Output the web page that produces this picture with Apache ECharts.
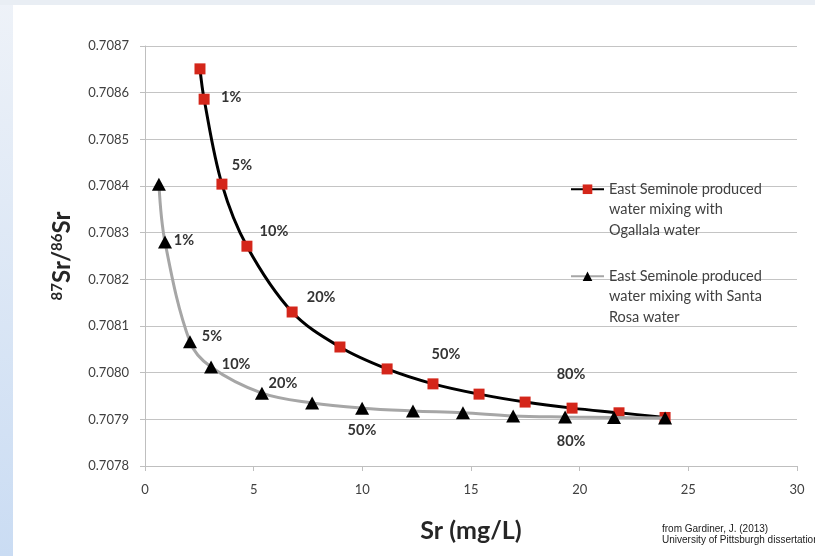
<!DOCTYPE html>
<html>
<head>
<meta charset="utf-8">
<script src="https://cdn.jsdelivr.net/npm/echarts@6/dist/echarts.min.js"></script>
<style>
html,body{margin:0;padding:0;}
body{
  width:815px;height:556px;overflow:hidden;
  background:
    linear-gradient(#e9eef4,#e9eef4) 0 0/100% 5px no-repeat,
    linear-gradient(to bottom,#eef2f8,#cadcf3) 0 0/13px 100% no-repeat,
    #ffffff;
}
#chart{width:815px;height:556px;}
</style>
</head>
<body>
<div id="chart"></div>
<script>
// ---- data ----
var ogallalaSr    = [2.53, 2.72, 3.54, 4.69, 6.77, 8.97, 11.14, 13.25, 15.37, 17.49, 19.65, 21.81, 23.93];
var ogallalaRatio = [0.708651, 0.708586, 0.708404, 0.708271, 0.708130, 0.708055, 0.708008, 0.707976, 0.707954, 0.707937, 0.707924, 0.707914, 0.707904];
var ogallalaLabels = ['', '1%', '5%', '10%', '20%', '', '', '50%', '', '', '80%', '', ''];

var santaRosaSr    = [0.64, 0.92, 2.07, 3.04, 5.38, 7.69, 9.99, 12.33, 14.63, 16.94, 19.33, 21.58, 23.93];
var santaRosaRatio = [0.708404, 0.708280, 0.708066, 0.708012, 0.707956, 0.707935, 0.707924, 0.707918, 0.707914, 0.707907, 0.707905, 0.707904, 0.707903];
var santaRosaLabels = ['', '1%', '5%', '10%', '20%', '', '', '50%', '', '', '80%', '', ''];

var xTicks = [0, 5, 10, 15, 20, 25, 30];
var yTicks = [0.7078, 0.7079, 0.7080, 0.7081, 0.7082, 0.7083, 0.7084, 0.7085, 0.7086, 0.7087];

var seriesNames = [
  'East Seminole produced water mixing with Ogallala water',
  'East Seminole produced water mixing with Santa Rosa water'
];
var legendLines = [
  ['East Seminole produced', 'water mixing with', 'Ogallala water'],
  ['East Seminole produced', 'water mixing with Santa', 'Rosa water']
];

// ---- label placement (style, not data) ----
var ogOffsets = {1:[27,-2], 2:[20,-19], 3:[27,-15], 4:[29,-15], 7:[13,-30], 10:[-1,-34]};
var srOffsets = {1:[19,-2], 2:[22,-6], 3:[25,-3], 4:[21,-10], 7:[-51,19], 10:[6,24]};

var labelFont = {fontFamily:'Lato', fontWeight:'bold', fontSize:14.5, color:'#333333'};

function buildData(xs, ys, labels, offsets){
  return xs.map(function(x, i){
    var item = {value:[x, ys[i]]};
    if (labels[i]) {
      item.label = Object.assign({
        show:true, position:'inside', offset:offsets[i], formatter:labels[i]
      }, labelFont);
    }
    return item;
  });
}

// two blank lines above so the icon sits on the first text line
function legendText(lines){ return '\n\n' + lines.join('\n'); }

var chart = echarts.init(document.getElementById('chart'), null, {renderer:'canvas'});

var legendStyle = {fontFamily:'Lato', fontSize:14.5, color:'#404040', lineHeight:20.5};

var option = {
  backgroundColor:'transparent',
  animation:false,
  textStyle:{fontFamily:'Lato'},
  grid:{left:145, right:18, top:46, bottom:90},
  xAxis:{
    type:'value', min:xTicks[0], max:xTicks[xTicks.length-1], interval:xTicks[1]-xTicks[0],
    name:'Sr (mg/L)', nameLocation:'middle', nameGap:52,
    nameTextStyle:{fontFamily:'Lato', fontWeight:'bold', fontSize:25, color:'#262626'},
    axisLine:{show:true, lineStyle:{color:'#bfbfbf', width:1}},
    axisTick:{show:true, length:5, lineStyle:{color:'#bfbfbf'}},
    axisLabel:{color:'#404040', fontSize:13, fontFamily:'Lato', margin:17},
    splitLine:{show:false}
  },
  yAxis:{
    type:'value', min:yTicks[0], max:yTicks[yTicks.length-1], interval:0.0001,
    name:'{sup|87}{b|Sr/}{sup|86}{b|Sr}', nameLocation:'middle', nameGap:70, nameRotate:90,
    nameTextStyle:{
      color:'#262626',
      rich:{
        b:{fontFamily:'Lato', fontWeight:'bold', fontSize:24, color:'#262626'},
        sup:{fontFamily:'Lato', fontWeight:'bold', fontSize:15, color:'#262626', padding:[0,0,10,0]}
      }
    },
    axisLine:{show:true, lineStyle:{color:'#bfbfbf', width:1}},
    axisTick:{show:true, length:5, lineStyle:{color:'#bfbfbf'}},
    axisLabel:{color:'#404040', fontSize:13, fontFamily:'Lato', margin:16,
      formatter:function(v){ return v.toFixed(4); }},
    splitLine:{show:true, lineStyle:{color:'#c4c4c4', width:1}}
  },
  legend:[
    {
      data:[seriesNames[0]], left:570, top:189 - 51, padding:0, orient:'vertical',
      itemWidth:33, itemHeight:12, itemGap:0,
      formatter:function(){ return legendText(legendLines[0]); },
      textStyle:legendStyle
    },
    {
      data:[seriesNames[1]], left:570, top:276 - 51, padding:0, orient:'vertical',
      itemWidth:33, itemHeight:12, itemGap:0,
      formatter:function(){ return legendText(legendLines[1]); },
      textStyle:legendStyle
    }
  ],
  series:[
    {
      name:seriesNames[0], type:'line', smooth:0.35,
      symbol:'rect', symbolSize:11,
      lineStyle:{color:'#000000', width:3},
      itemStyle:{color:'#d4261a'},
      data:buildData(ogallalaSr, ogallalaRatio, ogallalaLabels, ogOffsets),
      z:2
    },
    {
      name:seriesNames[1], type:'line', smooth:0.35,
      symbol:'triangle', symbolSize:[14,13],
      lineStyle:{color:'#a6a6a6', width:3},
      itemStyle:{color:'#000000'},
      data:buildData(santaRosaSr, santaRosaRatio, santaRosaLabels, srOffsets),
      z:3
    }
  ],
  graphic:[
    {
      type:'text', left:662, top:524,
      style:{
        text:'from Gardiner, J. (2013)\nUniversity of Pittsburgh dissertation',
        fontFamily:"'Liberation Sans Narrow','Arial Narrow','Liberation Sans',sans-serif",
        fontSize:10, lineHeight:11, fill:'#1a1a1a'
      }
    }
  ]
};
chart.setOption(option);
</script>
</body>
</html>
